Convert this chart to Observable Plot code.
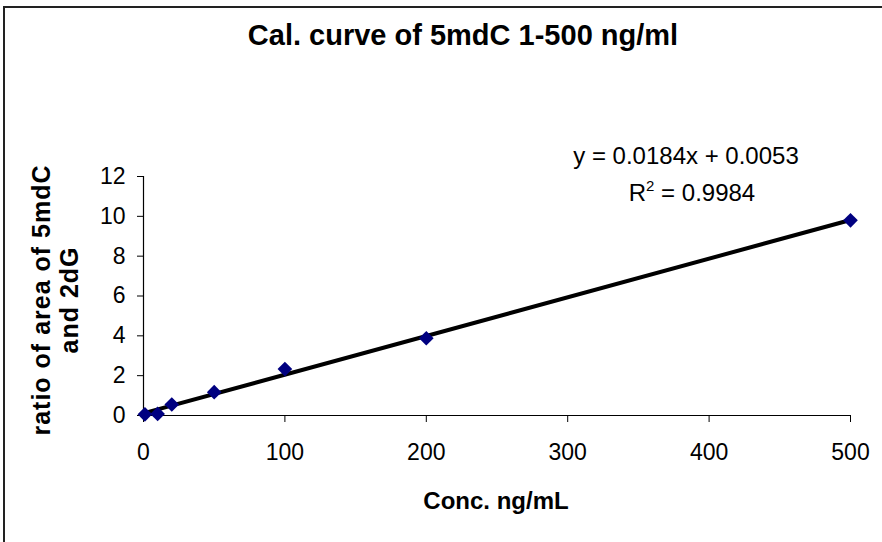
<!DOCTYPE html>
<html>
<head>
<meta charset="utf-8">
<script src="https://cdn.jsdelivr.net/npm/d3@7"></script>
<script src="https://cdn.jsdelivr.net/npm/@observablehq/plot@0.6"></script>
<style>
  html, body { margin: 0; padding: 0; background: white; }
  #chart { width: 882px; height: 542px; overflow: hidden; }
</style>
</head>
<body>
<div id="chart"></div>
<script>
// Data
const concentrations = [1, 10, 20, 50, 100, 200, 500];
const ratios = [0.06, 0.08, 0.55, 1.17, 2.33, 3.88, 9.8];
const xTicks = [0, 100, 200, 300, 400, 500];
const yTicks = [0, 2, 4, 6, 8, 10, 12];
const titleText = "Cal. curve of 5mdC 1-500 ng/ml";
const xTitle = "Conc. ng/mL";
const yTitleLines = ["ratio of area of 5mdC", "and 2dG"];
const equationText = "y = 0.0184x + 0.0053";
const r2Value = "0.9984";

const data = concentrations.map((c, i) => ({conc: c, ratio: ratios[i]}));
const FONT = "Arial, 'Liberation Sans', sans-serif";

const chart = Plot.plot({
  width: 882,
  height: 542,
  marginLeft: 143,
  marginRight: 32,
  marginTop: 176,
  marginBottom: 127,
  style: {fontFamily: FONT, fontSize: "23px", color: "black", background: "white", overflow: "visible"},
  x: {domain: [0, 500], ticks: xTicks, tickSize: 7, tickPadding: 21, label: null},
  y: {domain: [0, 12], ticks: yTicks, tickSize: 6, tickPadding: 12, label: null},
  marks: [
    Plot.ruleY([0], {stroke: "black", strokeWidth: 1.2}),
    Plot.ruleX([0], {stroke: "black", strokeWidth: 1.2}),
    Plot.linearRegressionY(data, {x: "conc", y: "ratio", stroke: "black", strokeWidth: 4, ci: 0}),
    Plot.dot(data, {x: "conc", y: "ratio", symbol: "diamond2", r: 6.6, fill: "#000080", stroke: "none"})
  ]
});

document.getElementById("chart").appendChild(chart);

const svg = d3.select(chart);
// chart border (top and left visible; right and bottom cropped)
svg.append("path")
  .attr("d", "M4,545 V7 H885")
  .attr("fill", "none")
  .attr("stroke", "#222")
  .attr("stroke-width", 2);

svg.append("text")
  .attr("x", 463).attr("y", 45)
  .attr("text-anchor", "middle")
  .attr("font-family", FONT).attr("font-weight", "bold").attr("font-size", 29)
  .attr("fill", "black")
  .text(titleText);

svg.append("text")
  .attr("x", 496).attr("y", 509)
  .attr("text-anchor", "middle")
  .attr("font-family", FONT).attr("font-weight", "bold").attr("font-size", 24)
  .attr("fill", "black")
  .text(xTitle);

const yBase = [50, 78];
yTitleLines.forEach((line, i) => {
  svg.append("text")
    .attr("transform", `translate(${yBase[i]},300) rotate(-90)`)
    .attr("text-anchor", "middle")
    .attr("font-family", FONT).attr("font-weight", "bold").attr("font-size", 25)
    .attr("letter-spacing", 1)
    .attr("fill", "black")
    .text(line);
});

svg.append("text")
  .attr("x", 686).attr("y", 164)
  .attr("text-anchor", "middle")
  .attr("font-family", FONT).attr("font-size", 24)
  .attr("fill", "black")
  .text(equationText);

const r2 = svg.append("text")
  .attr("x", 692).attr("y", 201)
  .attr("text-anchor", "middle")
  .attr("font-family", FONT).attr("font-size", 24)
  .attr("fill", "black");
r2.append("tspan").text("R");
r2.append("tspan").attr("font-size", 15).attr("dy", -10).text("2");
r2.append("tspan").attr("dy", 10).text(" = " + r2Value);
</script>
</body>
</html>
